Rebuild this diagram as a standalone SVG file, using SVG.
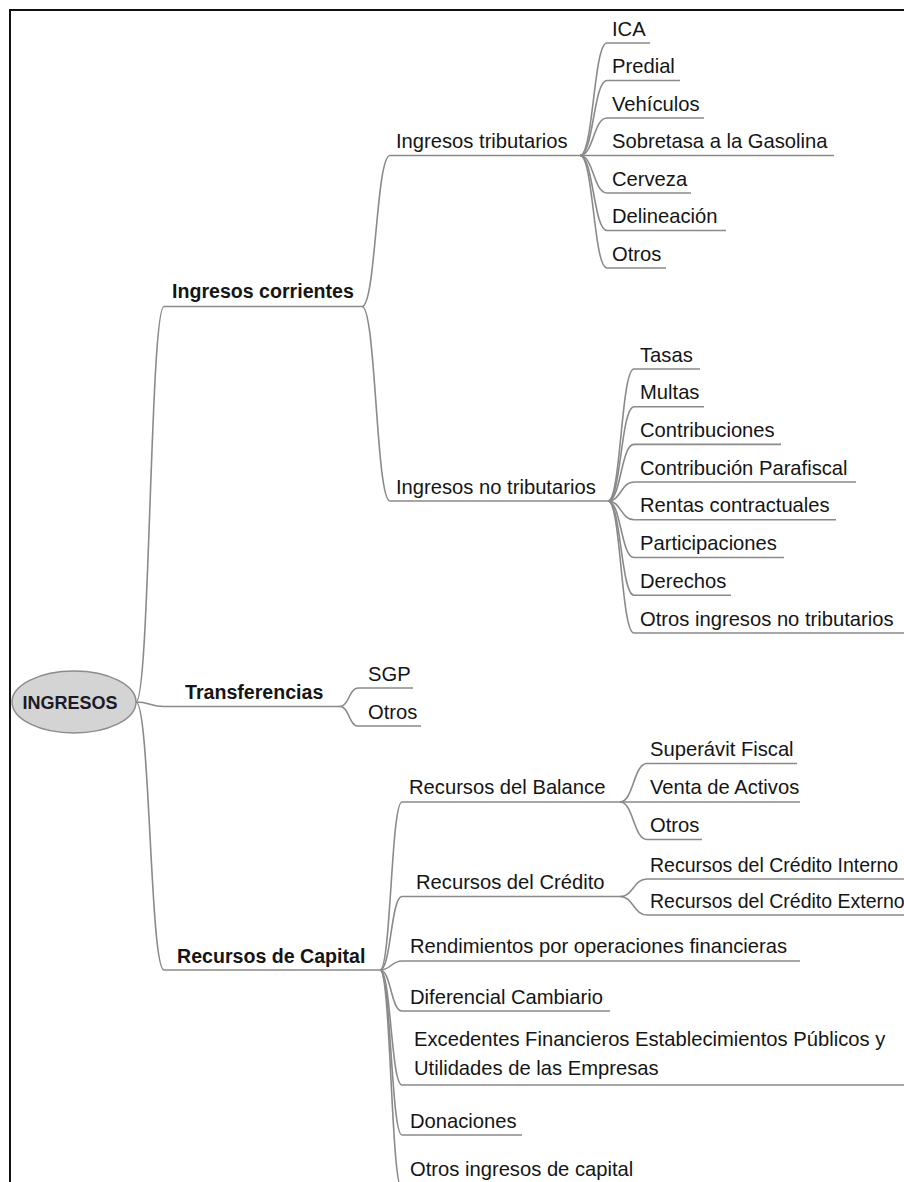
<svg xmlns="http://www.w3.org/2000/svg" width="904" height="1182" viewBox="0 0 904 1182">
  <style>
    .t { font-family: "Liberation Sans", Arial, sans-serif; font-size: 20.2px; fill: #151515; }
    .t.narrow { font-size: 19.5px; }
    .b { font-family: "Liberation Sans", Arial, sans-serif; font-size: 19.6px; font-weight: bold; fill: #151515; }
    .root { font-family: "Liberation Sans", Arial, sans-serif; font-size: 18px; font-weight: bold; fill: #1a1a2a; }
    .c { fill: none; stroke: #8a8a8a; stroke-width: 1.6; }
    .frame { fill: none; stroke: #111; stroke-width: 2; }
  </style>
  <rect x="0" y="0" width="904" height="1182" fill="#ffffff"/>
  <path class="frame" d="M10,1182 V10 H904"/>

  <!-- branches: curve into each child, then the child's underline -->
  <g id="connectors">
    <!-- root -->
    <path class="c" d="M136,702 C150,702 150,306.5 164,306.5 H362"/>
    <path class="c" d="M136,702 C150,702 150,706.5 164,706.5 H340"/>
    <path class="c" d="M136,702 C150,702 150,970 164,970 H380"/>
    <!-- Ingresos corrientes -->
    <path class="c" d="M362,306.5 C376,306.5 376,155.5 390,155.5 H580"/>
    <path class="c" d="M362,306.5 C376,306.5 376,501 390,501 H608"/>
    <!-- Ingresos tributarios -->
    <path class="c" d="M580,155.5 C593.5,155.5 593.5,43 607,43 H650"/>
    <path class="c" d="M580,155.5 C593.5,155.5 593.5,80.5 607,80.5 H680"/>
    <path class="c" d="M580,155.5 C593.5,155.5 593.5,118 607,118 H704"/>
    <path class="c" d="M580,155.5 C593.5,155.5 593.5,155.5 607,155.5 H834"/>
    <path class="c" d="M580,155.5 C593.5,155.5 593.5,193 607,193 H691"/>
    <path class="c" d="M580,155.5 C593.5,155.5 593.5,230.5 607,230.5 H726"/>
    <path class="c" d="M580,155.5 C593.5,155.5 593.5,268 607,268 H666"/>
    <!-- Ingresos no tributarios -->
    <path class="c" d="M608,501 C621,501 621,369 634,369 H700"/>
    <path class="c" d="M608,501 C621,501 621,406.7 634,406.7 H704"/>
    <path class="c" d="M608,501 C621,501 621,444.4 634,444.4 H781"/>
    <path class="c" d="M608,501 C621,501 621,482 634,482 H856"/>
    <path class="c" d="M608,501 C621,501 621,519.8 634,519.8 H836"/>
    <path class="c" d="M608,501 C621,501 621,557.5 634,557.5 H784"/>
    <path class="c" d="M608,501 C621,501 621,595.2 634,595.2 H731"/>
    <path class="c" d="M608,501 C621,501 621,633 634,633 H904"/>
    <!-- Transferencias -->
    <path class="c" d="M340,706.5 C349,706.5 349,688 358,688 H413"/>
    <path class="c" d="M340,706.5 C349,706.5 349,726 358,726 H421"/>
    <!-- Recursos de Capital -->
    <path class="c" d="M380,970 C391,970 391,802 402,802 H620"/>
    <path class="c" d="M380,970 C391,970 391,896.5 402,896.5 H620"/>
    <path class="c" d="M380,970 C391,970 391,961 402,961 H800"/>
    <path class="c" d="M380,970 C391,970 391,1011 402,1011 H610"/>
    <path class="c" d="M380,970 C391,970 391,1085 402,1085 H904"/>
    <path class="c" d="M380,970 C391,970 391,1135 402,1135 H522"/>
    <path class="c" d="M380,970 C391,970 391,1189 402,1189 H640"/>
    <!-- Recursos del Balance -->
    <path class="c" d="M620,802 C633.5,802 633.5,763.5 647,763.5 H797"/>
    <path class="c" d="M620,802 C633.5,802 633.5,802 647,802 H800"/>
    <path class="c" d="M620,802 C633.5,802 633.5,839.5 647,839.5 H702"/>
    <!-- Recursos del Crédito -->
    <path class="c" d="M620,896.5 C633.5,896.5 633.5,879 647,879 H904"/>
    <path class="c" d="M620,896.5 C633.5,896.5 633.5,915 647,915 H904"/>
  </g>

  <g id="n-ingresos">
    <ellipse cx="74" cy="702" rx="62" ry="31" fill="#d4d4d4" stroke="#8c8c8c" stroke-width="1.5"/>
    <text class="root" x="70" y="708.5" text-anchor="middle">INGRESOS</text>
  </g>

  <g id="n-corrientes"><text class="b" x="172" y="297.5">Ingresos corrientes</text></g>
  <g id="n-transferencias"><text class="b" x="185" y="699">Transferencias</text></g>
  <g id="n-capital"><text class="b" x="177" y="962.5">Recursos de Capital</text></g>

  <g id="n-tributarios"><text class="t" x="396" y="148">Ingresos tributarios</text></g>
  <g id="n-ica"><text class="t" x="612" y="35.5">ICA</text></g>
  <g id="n-predial"><text class="t" x="612" y="73">Predial</text></g>
  <g id="n-vehiculos"><text class="t" x="612" y="110.5">Vehículos</text></g>
  <g id="n-sobretasa"><text class="t" x="612" y="148">Sobretasa a la Gasolina</text></g>
  <g id="n-cerveza"><text class="t" x="612" y="185.5">Cerveza</text></g>
  <g id="n-delineacion"><text class="t" x="612" y="223">Delineación</text></g>
  <g id="n-otros-trib"><text class="t" x="612" y="260.5">Otros</text></g>

  <g id="n-no-tributarios"><text class="t" x="396" y="493.5">Ingresos no tributarios</text></g>
  <g id="n-tasas"><text class="t" x="640" y="361.5">Tasas</text></g>
  <g id="n-multas"><text class="t" x="640" y="399.2">Multas</text></g>
  <g id="n-contribuciones"><text class="t" x="640" y="436.9">Contribuciones</text></g>
  <g id="n-parafiscal"><text class="t" x="640" y="474.5">Contribución Parafiscal</text></g>
  <g id="n-rentas"><text class="t" x="640" y="512.3">Rentas contractuales</text></g>
  <g id="n-participaciones"><text class="t" x="640" y="550">Participaciones</text></g>
  <g id="n-derechos"><text class="t" x="640" y="587.7">Derechos</text></g>
  <g id="n-otros-no-trib"><text class="t" x="640" y="625.5">Otros ingresos no tributarios</text></g>

  <g id="n-sgp"><text class="t" x="368" y="680.5">SGP</text></g>
  <g id="n-otros-transf"><text class="t" x="368" y="718.5">Otros</text></g>

  <g id="n-balance"><text class="t" x="409" y="794">Recursos del Balance</text></g>
  <g id="n-superavit"><text class="t" x="650" y="756">Superávit Fiscal</text></g>
  <g id="n-venta"><text class="t" x="650" y="794">Venta de Activos</text></g>
  <g id="n-otros-balance"><text class="t" x="650" y="832">Otros</text></g>

  <g id="n-credito"><text class="t" x="416" y="888.5">Recursos del Crédito</text></g>
  <g id="n-credito-interno"><text class="t narrow" x="650" y="871.5">Recursos del Crédito Interno</text></g>
  <g id="n-credito-externo"><text class="t narrow" x="650" y="907.5">Recursos del Crédito Externo</text></g>

  <g id="n-rendimientos"><text class="t" x="410" y="953">Rendimientos por operaciones financieras</text></g>
  <g id="n-diferencial"><text class="t" x="410" y="1003.5">Diferencial Cambiario</text></g>
  <g id="n-excedentes">
    <text class="t" x="414" y="1046">Excedentes Financieros Establecimientos Públicos y</text>
    <text class="t" x="414" y="1074.5">Utilidades de las Empresas</text>
  </g>
  <g id="n-donaciones"><text class="t" x="410" y="1127.5">Donaciones</text></g>
  <g id="n-otros-capital"><text class="t" x="410" y="1175.5">Otros ingresos de capital</text></g>
</svg>
